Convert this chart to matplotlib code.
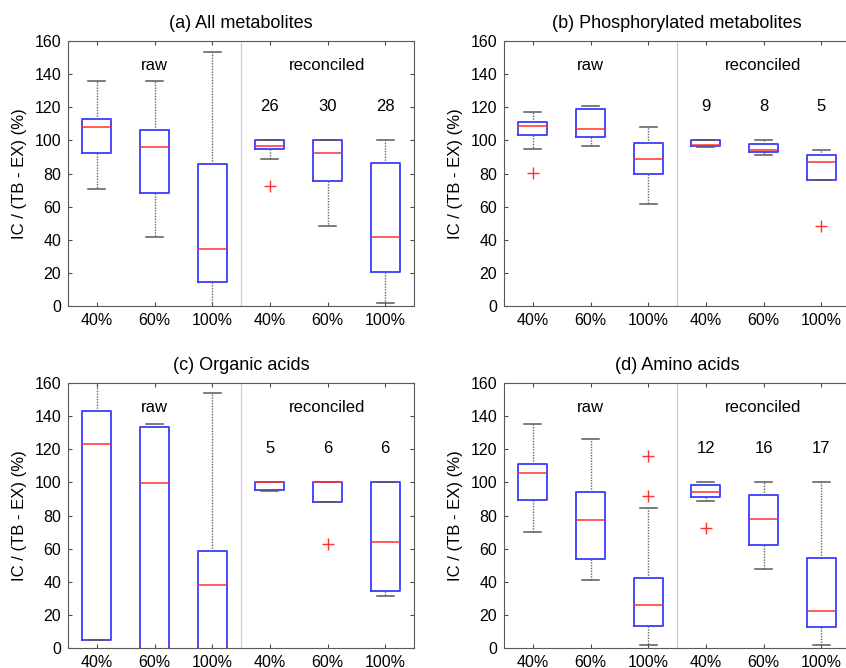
import matplotlib
matplotlib.use("Agg")
import matplotlib.pyplot as plt

plt.rcParams["font.family"] = ["Liberation Sans", "DejaVu Sans"]
plt.rcParams["font.size"] = 11

# tick labels along x
groups = ["40%", "60%", "100%", "40%", "60%", "100%"]

titles = ["(a) All metabolites", "(b) Phosphorylated metabolites",
          "(c) Organic acids", "(d) Amino acids"]

# number of reconciled metabolites per panel
counts_a = [26, 30, 28]
counts_b = [9, 8, 5]
counts_c = [5, 6, 6]
counts_d = [12, 16, 17]

# box statistics: [whislo, q1, med, q3, whishi]
stats_a = [[70.4, 92.2, 108.2, 112.9, 135.8],
           [41.4, 68.2, 96.2, 106.4, 135.6],
           [-5.0, 14.3, 34.4, 85.5, 153.5],
           [88.9, 95.0, 96.8, 100.2, 100.2],
           [48.3, 75.3, 92.6, 100.0, 100.0],
           [1.8, 20.3, 41.4, 86.1, 100.0]]
fliers_a = [[], [], [], [72.6], [], []]

stats_b = [[94.6, 103.4, 108.5, 110.9, 117.3],
           [96.8, 101.8, 106.6, 119.1, 120.7],
           [61.4, 79.9, 88.9, 98.2, 107.8],
           [96.2, 96.6, 97.0, 100.2, 100.2],
           [90.9, 93.2, 94.2, 98.0, 100.0],
           [76.0, 76.0, 87.1, 90.9, 94.0]]
fliers_b = [[80.3], [], [], [], [], [48.1]]

stats_c = [[4.8, 4.8, 122.9, 143.0, 175.0],
           [-20.0, -10.0, 99.5, 133.6, 135.2],
           [-20.0, -10.0, 37.9, 58.7, 153.8],
           [94.6, 95.4, 100.0, 100.1, 100.1],
           [88.0, 88.0, 100.0, 100.0, 100.0],
           [31.3, 34.7, 63.8, 100.0, 100.0]]
fliers_c = [[], [], [], [], [62.5], []]

stats_d = [[70.2, 89.6, 105.9, 111.0, 135.0],
           [41.2, 53.9, 77.1, 94.0, 126.1],
           [1.8, 13.3, 25.8, 42.0, 84.5],
           [88.6, 91.4, 94.0, 98.5, 100.0],
           [48.0, 61.9, 77.7, 92.4, 100.0],
           [1.8, 12.9, 22.6, 54.5, 100.0]]
fliers_d = [[], [], [116.2, 91.6], [72.2], [], []]

panels = [(stats_a, fliers_a, counts_a), (stats_b, fliers_b, counts_b),
          (stats_c, fliers_c, counts_c), (stats_d, fliers_d, counts_d)]

W, H = 846, 668
fig = plt.figure(figsize=(W / 100, H / 100), dpi=100)

# axes frames in pixels: left, top, right, bottom
frames = [(68, 41, 414, 306), (504, 41, 850, 306),
          (68, 383, 414, 648), (504, 383, 850, 648)]

for (st, fl, cnt), title, (l, t, r, b) in zip(panels, titles, frames):
    ax = fig.add_axes([l / W, 1 - b / H, (r - l) / W, (b - t) / H])
    bstats = []
    for s, f in zip(st, fl):
        bstats.append(dict(whislo=s[0], q1=s[1], med=s[2], q3=s[3],
                           whishi=s[4], fliers=f))
    ax.bxp(bstats, positions=range(1, 7), widths=0.5, capwidths=0.3,
           boxprops=dict(color="#3c3cff", linewidth=1.3),
           medianprops=dict(color="#ff3030", linewidth=1.1),
           whiskerprops=dict(color="0.4", linewidth=1.0, linestyle=(0, (1, 1))),
           capprops=dict(color="0.35", linewidth=1.1),
           flierprops=dict(marker="+", markeredgecolor="#ff3030",
                           markersize=9, linestyle="none"))
    ax.axvline(3.5, color="#c4c4ff", linewidth=0.8)
    ax.set_xlim(0.5, 6.5)
    ax.set_ylim(0, 160)
    ax.set_yticks(range(0, 161, 20))
    ax.set_xticks(range(1, 7))
    ax.set_xticklabels(groups)
    ax.tick_params(direction="in", top=True, right=True, length=3,
                   color="0.3", labelsize=11.5, pad=5)
    for sp in ax.spines.values():
        sp.set_color("0.35")
    ax.set_ylabel("IC / (TB - EX) (%)", fontsize=12, labelpad=5)
    ax.set_title(title, fontsize=13, pad=9)
    ax.text(2, 145.5, "raw", ha="center", va="center", fontsize=12)
    ax.text(5, 145.5, "reconciled", ha="center", va="center", fontsize=12)
    for i, n in enumerate(cnt):
        ax.text(4 + i, 120.3, str(n), ha="center", va="center", fontsize=12)

fig.savefig("out.png", dpi=100)
